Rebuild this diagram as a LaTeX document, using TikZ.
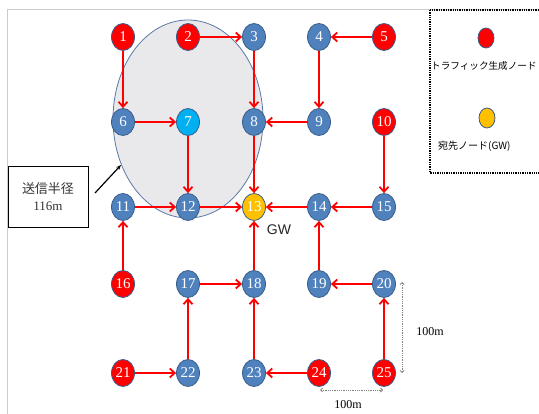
\documentclass[tikz,border=0pt]{standalone}
\usepackage{fontspec}
\setmainfont{Liberation Serif}
\newfontfamily\jpfont{Noto Sans CJK JP}
\newfontfamily\gwfont{Liberation Sans}
\usetikzlibrary{shapes.geometric,arrows.meta}
\definecolor{nred}{HTML}{FF0000}
\definecolor{nblue}{HTML}{4F81BD}
\definecolor{ncyan}{HTML}{00B0F0}
\definecolor{nyellow}{HTML}{FFC000}
\definecolor{nedge}{HTML}{385D8A}
\definecolor{circfill}{HTML}{E9E9EB}
\definecolor{circedge}{HTML}{5A7AA8}
\tikzset{
  nd/.style={ellipse, draw=nedge, line width=0.8pt, minimum width=23pt, minimum height=27pt,
    inner sep=0pt, text=white, font=\fontsize{15}{15}\selectfont},
  rn/.style={nd, fill=nred},
  bn/.style={nd, fill=nblue},
  flow/.style={draw=nred, line width=2pt, -{Straight Barb[length=5pt,width=9pt,line width=1.8pt]}},
  dim/.style={draw=gray, densely dotted, line width=0.8pt, {Straight Barb[length=2pt,width=4pt]}-{Straight Barb[length=2pt,width=4pt]}},
}
\begin{document}
\begin{tikzpicture}[x=1pt,y=-1pt]
\useasboundingbox (0,0) rectangle (539,414);
% frame
\draw[gray!40, line width=0.8pt] (7,414) -- (7,9) -- (539,9);
% transmission range
\node[ellipse, draw=circedge, fill=circfill, line width=0.8pt, minimum width=150pt, minimum height=198pt, inner sep=0pt] (range) at (188,119) {};
% nodes
\node[rn] (n1) at (123,37) {1};
\node[rn] (n2) at (188,37) {2};
\node[bn] (n3) at (254,37) {3};
\node[bn] (n4) at (319,37) {4};
\node[rn] (n5) at (384,37) {5};
\node[bn] (n6) at (123,122) {6};
\node[nd, fill=ncyan] (n7) at (188,122) {7};
\node[bn] (n8) at (254,122) {8};
\node[bn] (n9) at (319,122) {9};
\node[rn] (n10) at (384,122) {10};
\node[bn] (n11) at (123,207) {11};
\node[bn] (n12) at (188,207) {12};
\node[nd, fill=nyellow] (n13) at (254,207) {13};
\node[bn] (n14) at (319,207) {14};
\node[bn] (n15) at (384,207) {15};
\node[rn] (n16) at (123,284) {16};
\node[bn] (n17) at (188,284) {17};
\node[bn] (n18) at (254,284) {18};
\node[bn] (n19) at (319,284) {19};
\node[bn] (n20) at (384,284) {20};
\node[rn] (n21) at (123,373) {21};
\node[bn] (n22) at (188,373) {22};
\node[bn] (n23) at (254,373) {23};
\node[rn] (n24) at (319,373) {24};
\node[rn] (n25) at (384,373) {25};
% flows
\draw[flow] (n1) -- (n6);
\draw[flow] (n2) -- (n3);
\draw[flow] (n3) -- (n8);
\draw[flow] (n5) -- (n4);
\draw[flow] (n4) -- (n9);
\draw[flow] (n9) -- (n8);
\draw[flow] (n6) -- (n7);
\draw[flow] (n7) -- (n12);
\draw[flow] (n8) -- (n13);
\draw[flow] (n11) -- (n12);
\draw[flow] (n12) -- (n13);
\draw[flow] (n14) -- (n13);
\draw[flow] (n15) -- (n14);
\draw[flow] (n10) -- (n15);
\draw[flow] (n16) -- (n11);
\draw[flow] (n18) -- (n13);
\draw[flow] (n17) -- (n18);
\draw[flow] (n19) -- (n14);
\draw[flow] (n20) -- (n19);
\draw[flow] (n25) -- (n20);
\draw[flow] (n22) -- (n17);
\draw[flow] (n21) -- (n22);
\draw[flow] (n23) -- (n18);
\draw[flow] (n24) -- (n23);
% GW label
\node[font=\gwfont\fontsize{14}{14}\selectfont, text=black!85] (gw) at (279,230) {GW};
% radius box
\node[draw=black, line width=1pt, minimum width=80pt, minimum height=61pt, align=center, inner sep=0pt,
  font=\fontsize{13}{17}\selectfont, text=black!80] (rbox) at (48,197) {{\jpfont 送信半径}\\116m};
\coordinate (rstart) at (95,193);
\coordinate (rtip) at (121,165);
\draw[black, line width=1.2pt, -{Stealth[length=5pt,width=4pt]}] (rstart) -- (rtip);
% dimensions
\coordinate (dv1) at (402,282);
\coordinate (dv2) at (402,373);
\draw[dim] (dv1) -- (dv2);
\node[font=\fontsize{12}{12}\selectfont] (lv) at (430,332) {100m};
\coordinate (dh1) at (320,390);
\coordinate (dh2) at (383,390);
\draw[dim] (dh1) -- (dh2);
\node[font=\fontsize{12}{12}\selectfont] (lh) at (348,405) {100m};
% legend
\draw[black, line width=1.3pt, densely dotted] (430,10) rectangle (548,173);
\node[ellipse, draw=nedge, fill=nred, line width=0.8pt, minimum width=16pt, minimum height=20pt, inner sep=0pt] (lgr) at (486,38) {};
\node[ellipse, draw=nedge, fill=nyellow, line width=0.8pt, minimum width=16pt, minimum height=20pt, inner sep=0pt] (lgy) at (487,118) {};
\node[anchor=west, inner sep=0pt, font=\jpfont\fontsize{9.6}{11}\selectfont] (lt1) at (431,66) {トラフィック生成ノード};
\node[anchor=west, inner sep=0pt, font=\jpfont\fontsize{10}{11}\selectfont] (lt2) at (438,146) {宛先ノード(GW)};
\end{tikzpicture}
\end{document}
